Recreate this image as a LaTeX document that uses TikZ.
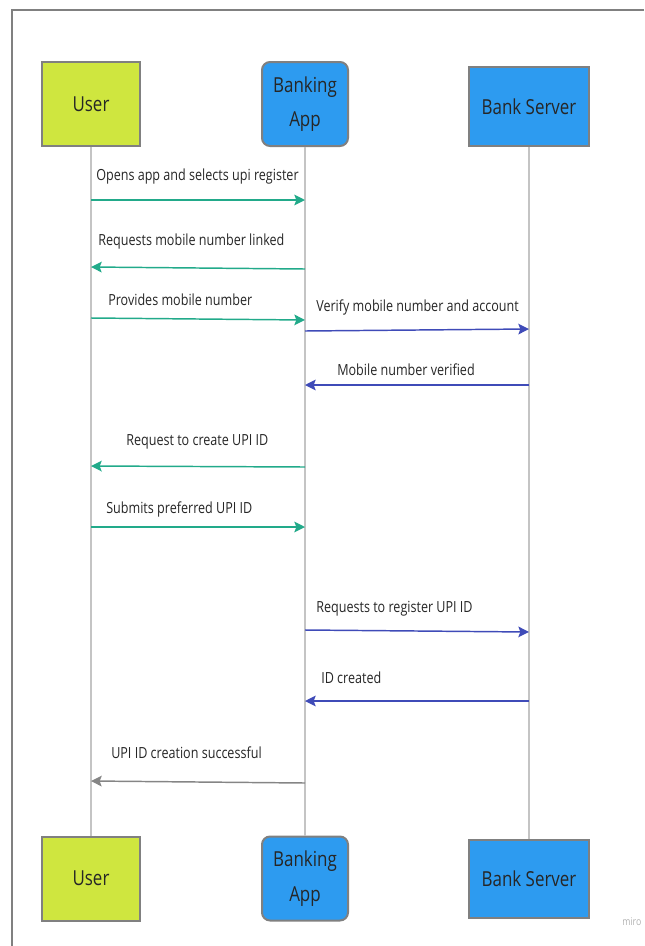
\documentclass[tikz,border=0pt]{standalone}
\usepackage{fontspec}
\setmainfont{Open Sans}[FakeStretch=0.82]
\usepackage{xcolor}
\usetikzlibrary{positioning, arrows.meta, calc}

\definecolor{userlime}{HTML}{CFE63F}
\definecolor{appblue}{HTML}{2D9BF0}
\definecolor{msgteal}{HTML}{22AA8A}
\definecolor{msgindigo}{HTML}{3F4BB8}
\definecolor{msggray}{HTML}{858585}
\definecolor{framegray}{HTML}{808080}
\definecolor{lifegray}{HTML}{C4C4C4}

\begin{document}
\begin{tikzpicture}[
		x=0.75pt, y=-0.75pt,
		actor/.style={rectangle, draw=framegray, line width=1.5pt, align=center, inner sep=0pt, font=\fontsize{15.5}{26}\selectfont, text=black!85},
		useractor/.style={actor, fill=userlime, minimum width=73.5pt, minimum height=63pt},
		appactor/.style={actor, fill=appblue, rounded corners=6pt, minimum width=64.5pt, minimum height=63pt},
		srvactor/.style={actor, fill=appblue, minimum width=90pt, minimum height=59pt},
		lifeline/.style={draw=lifegray, line width=0.8pt},
		msg/.style={line width=1.1pt, -{Stealth[length=8pt, width=8pt, inset=1.5pt]}},
		msglabel/.style={anchor=west, inner sep=0pt, font=\fontsize{11.5}{13}\selectfont, text=black!85}
		]

		\useasboundingbox (0,0) rectangle (644,946);
		\draw[framegray, line width=1.5pt] (12,946) -- (12,10) -- (644,10);

		% participants, top and bottom
		\node[useractor] (usertop) at (91,104) {User};
		\node[appactor] (apptop) at (305,104) {Banking\\App};
		\node[srvactor] (srvtop) at (529,106.5) {Bank Server};

		\node[useractor] (userbot) at (91,878.5) {User};
		\node[appactor] (appbot) at (305,878.5) {Banking\\App};
		\node[srvactor] (srvbot) at (529,879) {Bank Server};

		\draw[lifeline] (usertop) -- (userbot);
		\draw[lifeline] (apptop) -- (appbot);
		\draw[lifeline] (srvtop) -- (srvbot);

		% points on the lifelines
		\coordinate (u1) at (usertop |- 0,200);
		\coordinate (a1) at (apptop |- 0,200);
		\coordinate (u2) at (usertop |- 0,267);
		\coordinate (a2) at (apptop |- 0,269);
		\coordinate (u3) at (usertop |- 0,318);
		\coordinate (a3) at (apptop |- 0,320);
		\coordinate (a4) at (apptop |- 0,331);
		\coordinate (s4) at (srvtop |- 0,329);
		\coordinate (a5) at (apptop |- 0,385);
		\coordinate (s5) at (srvtop |- 0,385);
		\coordinate (u6) at (usertop |- 0,466);
		\coordinate (a6) at (apptop |- 0,467);
		\coordinate (u7) at (usertop |- 0,527);
		\coordinate (a7) at (apptop |- 0,527);
		\coordinate (a8) at (apptop |- 0,630);
		\coordinate (s8) at (srvtop |- 0,632);
		\coordinate (a9) at (apptop |- 0,701);
		\coordinate (s9) at (srvtop |- 0,701);
		\coordinate (u10) at (usertop |- 0,781);
		\coordinate (a10) at (apptop |- 0,783);

		% messages
		\draw[msg, msgteal] (u1) -- (a1);
		\draw[msg, msgteal] (a2) -- (u2);
		\draw[msg, msgteal] (u3) -- (a3);
		\draw[msg, msgindigo] (a4) -- (s4);
		\draw[msg, msgindigo] (s5) -- (a5);
		\draw[msg, msgteal] (a6) -- (u6);
		\draw[msg, msgteal] (u7) -- (a7);
		\draw[msg, msgindigo] (a8) -- (s8);
		\draw[msg, msgindigo] (s9) -- (a9);
		\draw[msg, msggray] (a10) -- (u10);

		\node[msglabel] (lab1) at (96,177) {Opens app and selects upi register};
		\node[msglabel] (lab2) at (98,242) {Requests mobile number linked};
		\node[msglabel] (lab3) at (108,300) {Provides mobile number};
		\node[msglabel] (lab4) at (316,307) {Verify mobile number and account};
		\node[msglabel] (lab5) at (337,370) {Mobile number verified};
		\node[msglabel] (lab6) at (126,442) {Request to create UPI ID};
		\node[msglabel] (lab7) at (106,509) {Submits preferred UPI ID};
		\node[msglabel] (lab8) at (316,609) {Requests to register UPI ID};
		\node[msglabel] (lab9) at (321,678) {ID created};
		\node[msglabel] (lab10) at (111,753) {UPI ID creation successful};

		\node[anchor=west, inner sep=0pt, font=\fontsize{8}{9}\selectfont, text=black!30] (miro) at (622,922) {miro};
	\end{tikzpicture}
\end{document}
